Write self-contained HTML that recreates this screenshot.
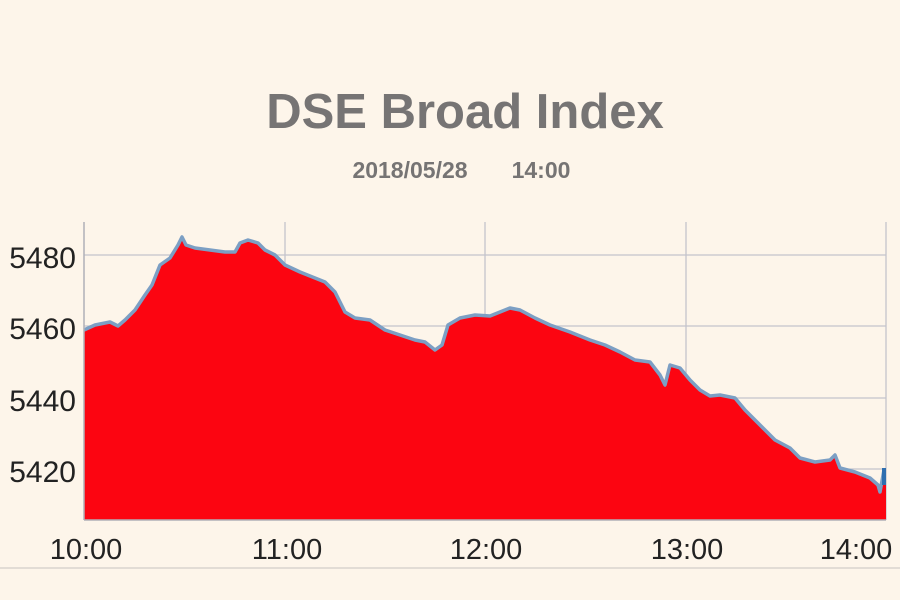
<!DOCTYPE html>
<html><head><style>
html,body{margin:0;padding:0;background:#fdf5ea;}
svg{display:block}
</style></head><body>
<svg width="900" height="600" viewBox="0 0 900 600" xmlns="http://www.w3.org/2000/svg">
<rect width="900" height="600" fill="#fdf5ea"/>
<text x="465" y="128" text-anchor="middle" font-family="Liberation Sans, sans-serif" font-weight="bold" font-size="49" fill="#767474">DSE Broad Index</text>
<text x="410" y="178" text-anchor="middle" font-family="Liberation Sans, sans-serif" font-weight="bold" font-size="23" fill="#767474">2018/05/28</text>
<text x="541" y="178" text-anchor="middle" font-family="Liberation Sans, sans-serif" font-weight="bold" font-size="23" fill="#767474">14:00</text>
<g stroke="#c4c4cc" stroke-width="1.3">
<line x1="84" y1="255" x2="886" y2="255"/>
<line x1="84" y1="326" x2="886" y2="326"/>
<line x1="84" y1="398" x2="886" y2="398"/>
<line x1="84" y1="469" x2="886" y2="469"/>
<line x1="285" y1="222" x2="285" y2="520"/>
<line x1="485" y1="222" x2="485" y2="520"/>
<line x1="686" y1="222" x2="686" y2="520"/>
<line x1="886" y1="222" x2="886" y2="520"/>
</g>
<path fill="#fc0511" d="M84,520 L84,330 L95,325 L110,322 L118,326 L125,320 L135,310 L145,295 L152,285 L160,265 L170,258 L178,245 L182,237 L186,245 L195,248 L210,250 L225,252 L235,252 L240,243 L248,240 L258,243 L265,250 L275,255 L285,265 L300,272 L315,278 L325,282 L335,292 L345,312 L355,318 L370,320 L385,330 L400,335 L415,340 L425,342 L435,350 L442,345 L448,325 L460,318 L475,315 L490,316 L500,312 L510,308 L520,310 L535,318 L550,325 L570,332 L590,340 L605,345 L620,352 L635,360 L650,362 L660,375 L665,385 L670,365 L680,368 L690,380 L700,390 L710,396 L720,395 L735,398 L745,410 L755,420 L765,430 L775,440 L790,448 L800,458 L815,462 L830,460 L835,455 L840,468 L855,472 L870,478 L878,485 L880,492 L884,470 L886,475 L886,520 Z"/>
<polyline fill="none" stroke="#7c9fc4" stroke-width="3.5" stroke-linejoin="round" points="84,330 95,325 110,322 118,326 125,320 135,310 145,295 152,285 160,265 170,258 178,245 182,237 186,245 195,248 210,250 225,252 235,252 240,243 248,240 258,243 265,250 275,255 285,265 300,272 315,278 325,282 335,292 345,312 355,318 370,320 385,330 400,335 415,340 425,342 435,350 442,345 448,325 460,318 475,315 490,316 500,312 510,308 520,310 535,318 550,325 570,332 590,340 605,345 620,352 635,360 650,362 660,375 665,385 670,365 680,368 690,380 700,390 710,396 720,395 735,398 745,410 755,420 765,430 775,440 790,448 800,458 815,462 830,460 835,455 840,468 855,472 870,478 878,485 880,492 884,470"/>
<line x1="884" y1="468" x2="884" y2="485" stroke="#2f6fb0" stroke-width="4"/>
<line x1="84" y1="222" x2="84" y2="520" stroke="#b0b0b8" stroke-width="1.5"/>
<line x1="84" y1="520" x2="886" y2="520" stroke="#b0b0b8" stroke-width="1.5"/>
<line x1="0" y1="568" x2="900" y2="568" stroke="#c8c4c0" stroke-width="1"/>
<g font-family="Liberation Sans, sans-serif" font-size="30" fill="#222">
<text x="76" y="268" text-anchor="end">5480</text>
<text x="76" y="339" text-anchor="end">5460</text>
<text x="76" y="411" text-anchor="end">5440</text>
<text x="76" y="482" text-anchor="end">5420</text>
</g>
<g font-family="Liberation Sans, sans-serif" font-size="29" fill="#222" text-anchor="middle">
<text x="86" y="559">10:00</text>
<text x="287" y="559">11:00</text>
<text x="486" y="559">12:00</text>
<text x="687" y="559">13:00</text>
<text x="856" y="559">14:00</text>
</g>
</svg>
</body></html>
